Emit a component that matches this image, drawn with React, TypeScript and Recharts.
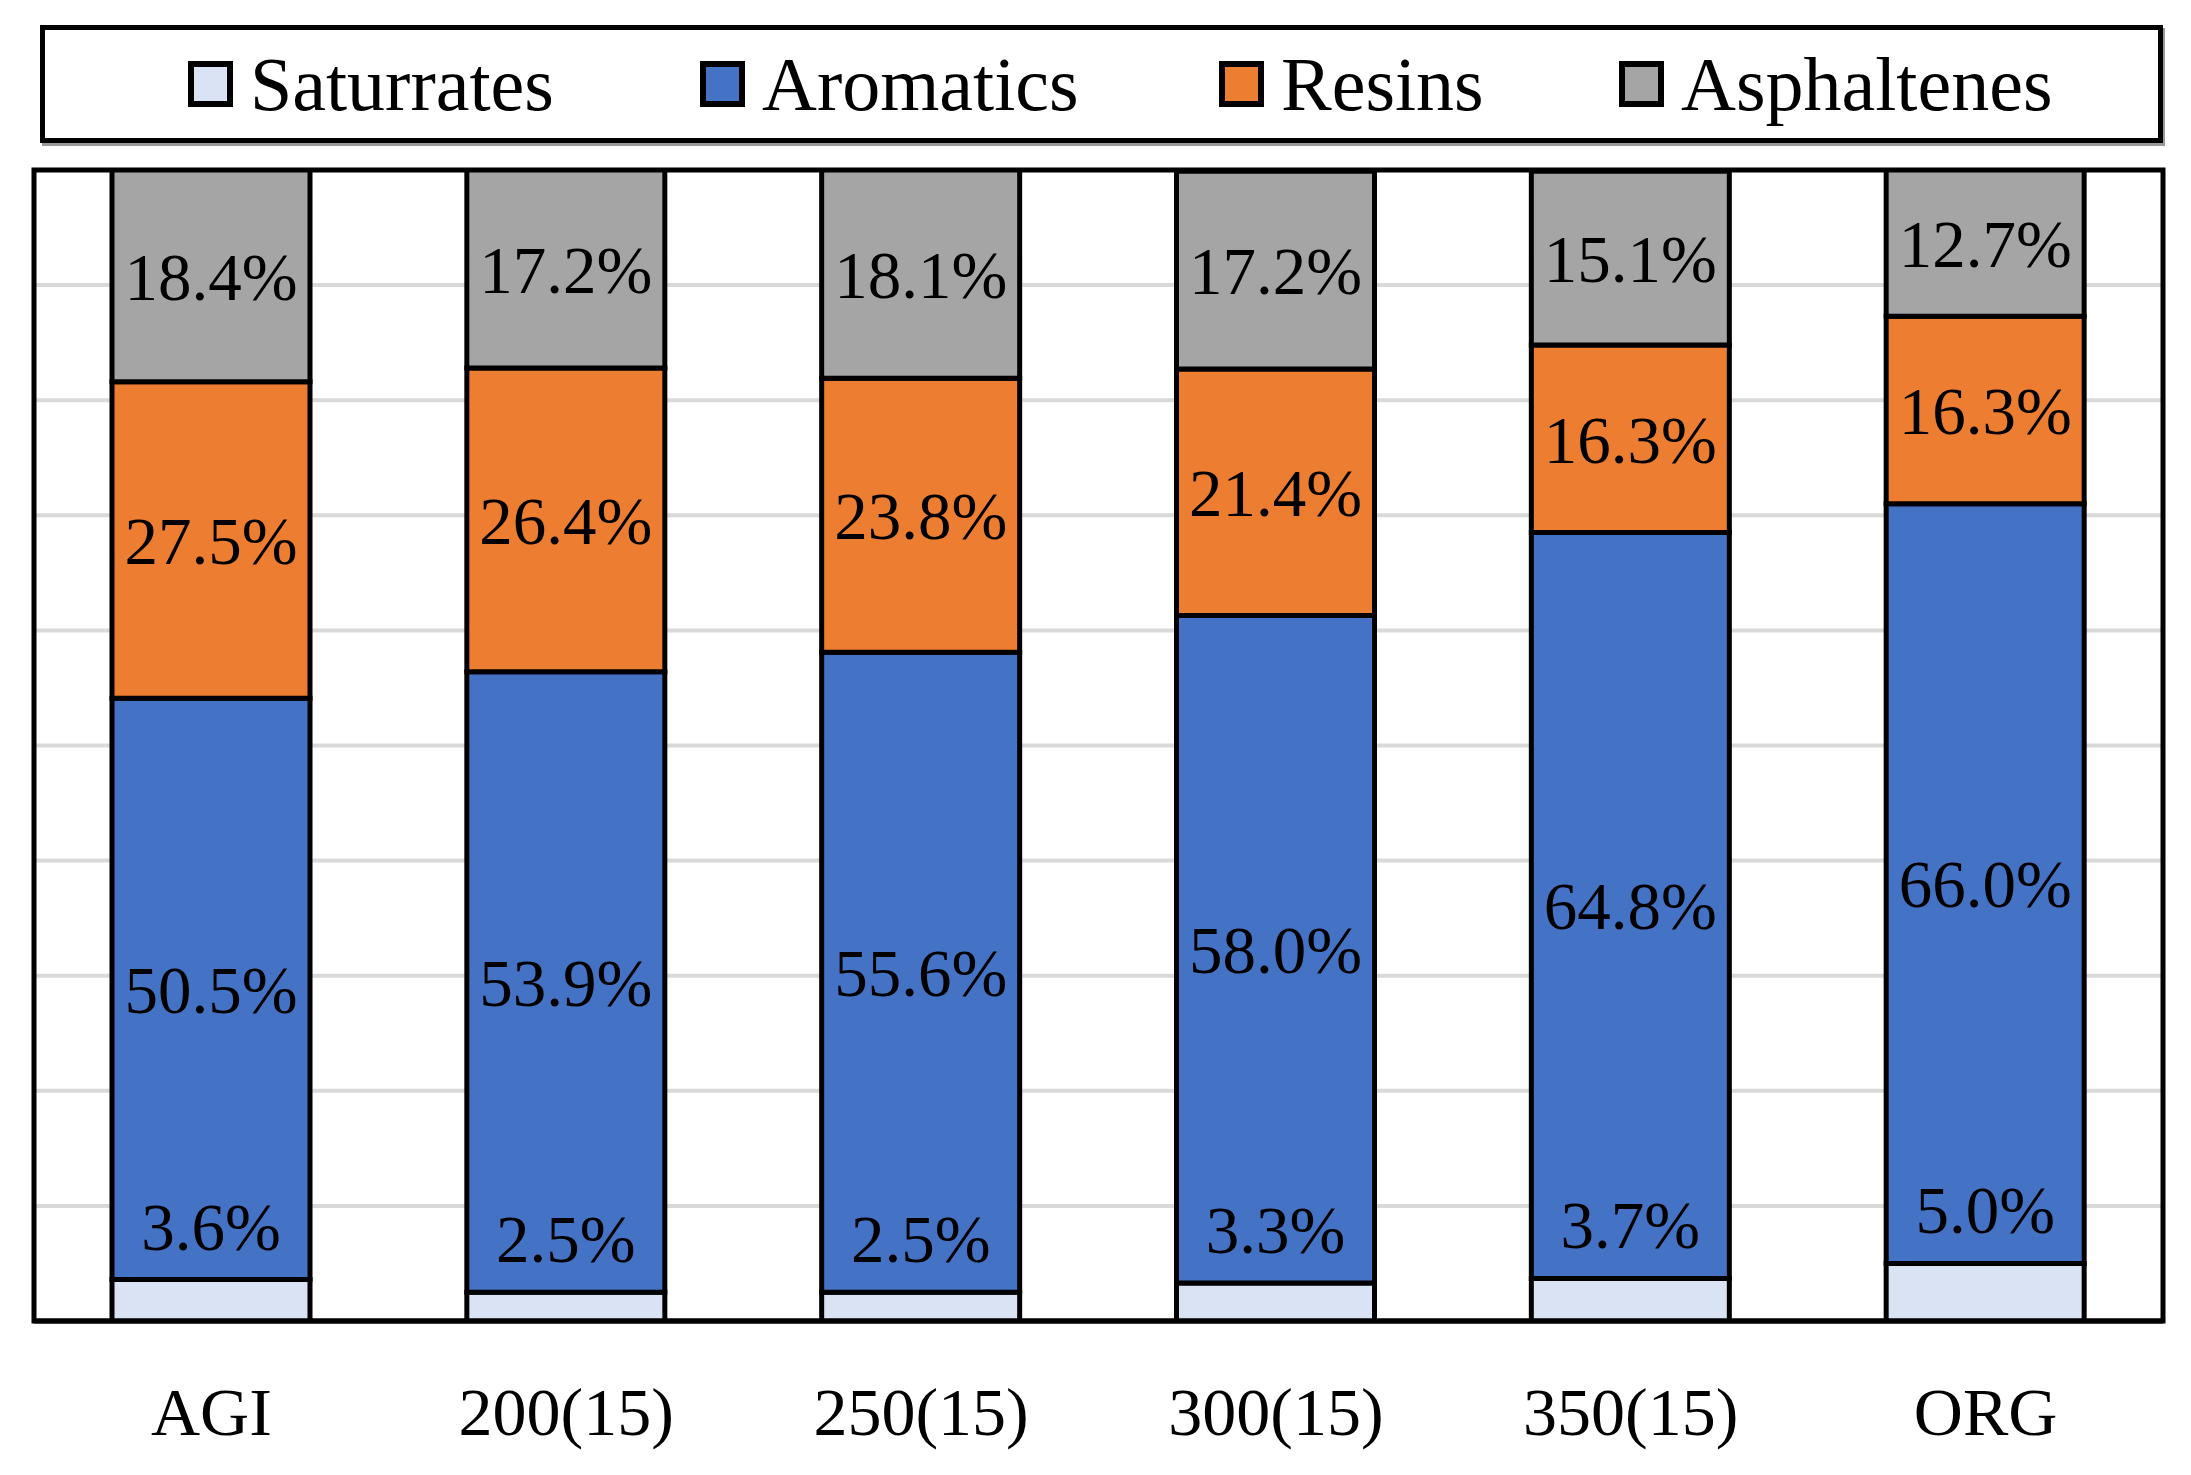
import React from 'react';
import { BarChart, Bar, XAxis, YAxis, CartesianGrid, Legend, LabelList, ReferenceArea } from 'recharts';

const categories = ['AGI', '200(15)', '250(15)', '300(15)', '350(15)', 'ORG'];
const saturates = [3.6, 2.5, 2.5, 3.3, 3.7, 5.0];
const aromatics = [50.5, 53.9, 55.6, 58.0, 64.8, 66.0];
const resins = [27.5, 26.4, 23.8, 21.4, 16.3, 16.3];
const asphaltenes = [18.4, 17.2, 18.1, 17.2, 15.1, 12.7];
const yTicks = [0, 10, 20, 30, 40, 50, 60, 70, 80, 90, 100];

const seriesInfo = [
  { key: 'Saturrates', color: '#dae3f3' },
  { key: 'Aromatics', color: '#4472c4' },
  { key: 'Resins', color: '#ed7d31' },
  { key: 'Asphaltenes', color: '#a5a5a5' },
];

const legendLeft = [148, 660, 1179, 1579];

const data = categories.map((c, i) => ({
  name: c,
  Saturrates: saturates[i],
  Aromatics: aromatics[i],
  Resins: resins[i],
  Asphaltenes: asphaltenes[i],
}));

const FONT = '"Liberation Serif", "Times New Roman", serif';
const fmt = (v: any) => `${Number(v).toFixed(1)}%`;

const SatLabel = (props: any) => {
  const { x, y, width, value } = props;
  return (
    <text
      x={Number(x) + Number(width) / 2}
      y={Number(y) - 53}
      textAnchor="middle"
      dominantBaseline="central"
      fontFamily={FONT}
      fontSize={67}
      fill="#000"
    >
      {fmt(value)}
    </text>
  );
};

const XTick = (props: any) => {
  const { x, y, payload } = props;
  return (
    <text
      x={x}
      y={y + 83}
      textAnchor="middle"
      dominantBaseline="central"
      fontFamily={FONT}
      fontSize={68}
      fill="#000"
    >
      {payload.value}
    </text>
  );
};

const LegendContent = () => (
  <div style={{ width: 2123, height: 145, boxSizing: 'border-box' }}>
    <div
      style={{
        position: 'relative',
        width: 2123,
        height: 118,
        boxSizing: 'border-box',
        border: '5px solid #000',
        boxShadow: '2px 3px 0 #999',
        fontFamily: FONT,
        fontSize: 76,
        color: '#000',
      }}
    >
      {seriesInfo.map((s, i) => (
        <div
          key={s.key}
          style={{
            position: 'absolute',
            left: legendLeft[i] - 5,
            top: 0,
            height: 108,
            display: 'flex',
            alignItems: 'center',
            gap: 17,
            whiteSpace: 'nowrap',
          }}
        >
          <div
            style={{
              width: 45,
              height: 46,
              boxSizing: 'border-box',
              background: s.color,
              border: '6px solid #000',
            }}
          />
          <span style={{ lineHeight: 1 }}>{s.key}</span>
        </div>
      ))}
    </div>
  </div>
);

export default function App() {
  return (
    <div style={{ position: 'absolute', left: 0, top: 0, width: 2191, height: 1475, background: '#fff' }}>
      <BarChart
        width={2191}
        height={1475}
        data={data}
        margin={{ top: 25, right: 28, bottom: 0, left: 34 }}
      >
        <CartesianGrid vertical={false} stroke="#d9d9d9" strokeWidth={4} />
        <Legend
          verticalAlign="top"
          align="left"
          content={<LegendContent />}
          wrapperStyle={{ top: 25, left: 40, width: 2123, height: 145 }}
        />
        <XAxis
          dataKey="name"
          height={154}
          tickLine={false}
          axisLine={{ stroke: '#000', strokeWidth: 5 }}
          tick={<XTick />}
          interval={0}
        />
        <YAxis
          width={0}
          domain={[0, 100]}
          ticks={yTicks}
          allowDataOverflow
          hide
        />
        {seriesInfo.map((s) => (
          <Bar
            key={s.key}
            dataKey={s.key}
            stackId="a"
            fill={s.color}
            stroke="#000"
            strokeWidth={5}
            barSize={198}
            isAnimationActive={false}
          >
            {s.key === 'Saturrates' ? (
              <LabelList dataKey={s.key} content={<SatLabel />} />
            ) : (
              <LabelList
                dataKey={s.key}
                position="center"
                formatter={fmt}
                fill="#000"
                fontFamily={FONT}
                fontSize={67}
              />
            )}
          </Bar>
        ))}
        <ReferenceArea
          y1={0}
          y2={100}
          fill="none"
          fillOpacity={0}
          stroke="#000"
          strokeWidth={5}
          ifOverflow="visible"
        />
      </BarChart>
    </div>
  );
}
